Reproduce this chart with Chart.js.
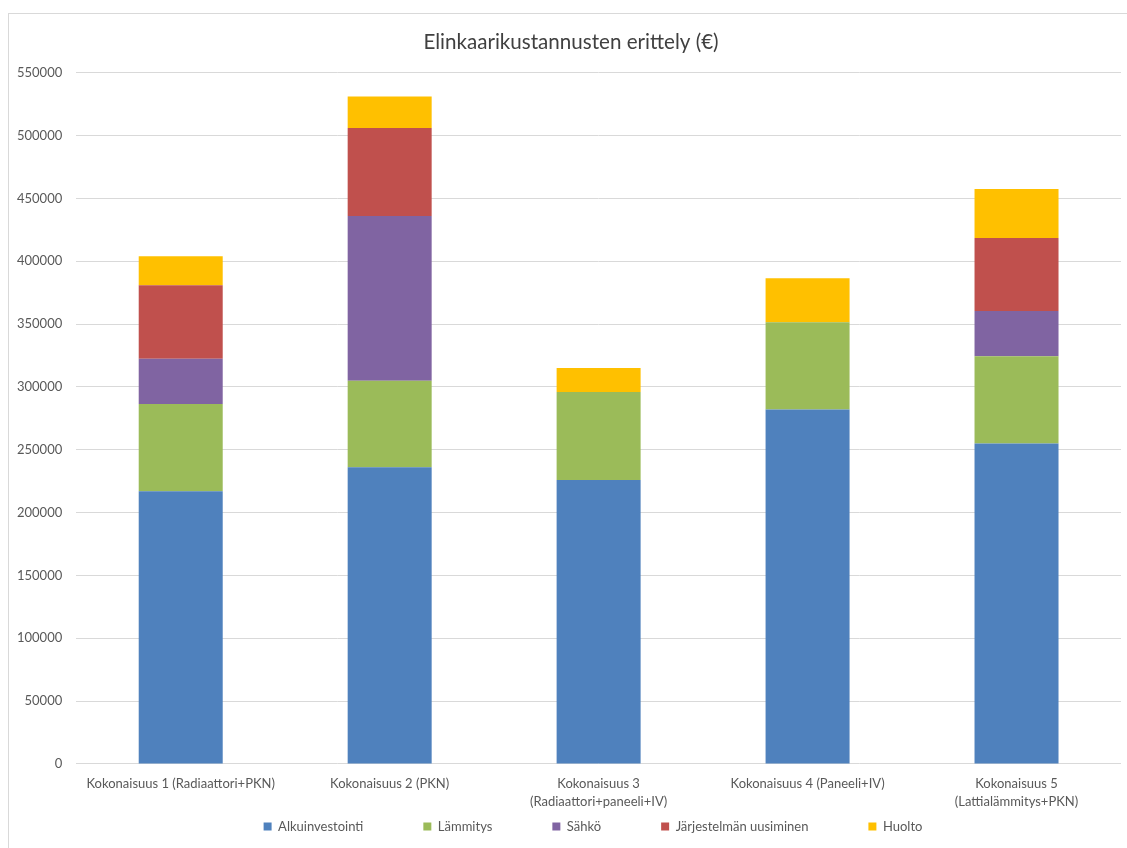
<!DOCTYPE html>
<html>
<head>
<meta charset="utf-8">
<title>Elinkaarikustannusten erittely</title>
<script src="https://cdn.jsdelivr.net/npm/chart.js@4.4.1/dist/chart.umd.min.js"></script>
<style>
  html, body { margin: 0; padding: 0; background: #fff; overflow: hidden; }
  #frame { position: absolute; left: 8px; top: 13px; width: 1200px; height: 900px; border: 1px solid #d9d9d9; }
  #chart { position: absolute; left: 0; top: 0; }
</style>
</head>
<body>
<div id="frame"></div>
<canvas id="chart" width="1127" height="848"></canvas>
<script>
const categories = [
  "Kokonaisuus 1 (Radiaattori+PKN)",
  "Kokonaisuus 2 (PKN)",
  ["Kokonaisuus 3", "(Radiaattori+paneeli+IV)"],
  "Kokonaisuus 4 (Paneeli+IV)",
  ["Kokonaisuus 5", "(Lattialämmitys+PKN)"],
];
const alkuinvestointi = [217000, 236000, 226000, 282000, 255000];
const lammitys = [69500, 69000, 70000, 69500, 69500];
const sahko = [36000, 131000, 0, 0, 36000];
const uusiminen = [58500, 70000, 0, 0, 58000];
const huolto = [23000, 25000, 19000, 35000, 39000];
const yMax = 550000;
const yStep = 50000;

const font = "Lato, 'Noto Sans', sans-serif";
const textColor = "#595959";
const gridColor = "#d9d9d9";

// legend labels.padding also pushes the row down, so take that room back
const LEGEND_GAP = 62;
const legendShift = {
  id: "legendShift",
  beforeLayout(chart) {
    const lg = chart.legend;
    if (lg && !lg.shrunk) {
      const fit = lg.fit;
      lg.fit = function () {
        fit.call(this);
        this.height -= LEGEND_GAP;
      };
      lg.shrunk = true;
    }
  },
  afterLayout(chart) {
    const lg = chart.legend;
    lg.top -= LEGEND_GAP; // bottom stays, the legend clips to its box
    lg.left += 31;
    lg.right += 31;
    // excel centres the title on the frame, not the canvas
    chart.titleBlock.left += 9;
    chart.titleBlock.right += 9;
  },
};

new Chart(document.getElementById("chart"), {
  type: "bar",
  data: {
    labels: categories,
    datasets: [
      { label: "Alkuinvestointi", data: alkuinvestointi, backgroundColor: "#4f81bd" },
      { label: "Lämmitys", data: lammitys, backgroundColor: "#9bbb59" },
      { label: "Sähkö", data: sahko, backgroundColor: "#8064a2" },
      { label: "Järjestelmän uusiminen", data: uusiminen, backgroundColor: "#c0504d" },
      { label: "Huolto", data: huolto, backgroundColor: "#ffc000" },
    ],
  },
  options: {
    responsive: false,
    animation: false,
    devicePixelRatio: 1,
    categoryPercentage: 1,
    barPercentage: 0.402,
    layout: { padding: { left: 3, right: 6, top: 10, bottom: 5 } },
    scales: {
      x: {
        stacked: true,
        grid: { display: false, drawTicks: false },
        border: { display: false },
        ticks: {
          color: textColor,
          font: { family: font, size: 13, lineHeight: 1.385 },
          padding: 11,
          maxRotation: 0,
          autoSkip: false,
        },
      },
      y: {
        stacked: true,
        min: 0,
        max: yMax,
        grid: { color: gridColor, drawTicks: false },
        border: { display: false },
        ticks: {
          stepSize: yStep,
          color: textColor,
          font: { family: font, size: 13 },
          padding: 14,
          callback: (v) => String(v),
        },
      },
    },
    plugins: {
      title: {
        display: true,
        text: "Elinkaarikustannusten erittely (€)",
        color: "#404040",
        font: { family: font, size: 20.6, weight: "normal" },
        padding: { top: 20, bottom: 18 },
      },
      legend: {
        position: "bottom",
        labels: {
          color: textColor,
          font: { family: font, size: 13 },
          boxWidth: 8,
          boxHeight: 8,
          padding: 60,
        },
      },
      tooltip: { enabled: false },
    },
  },
  plugins: [legendShift],
});
</script>
</body>
</html>
